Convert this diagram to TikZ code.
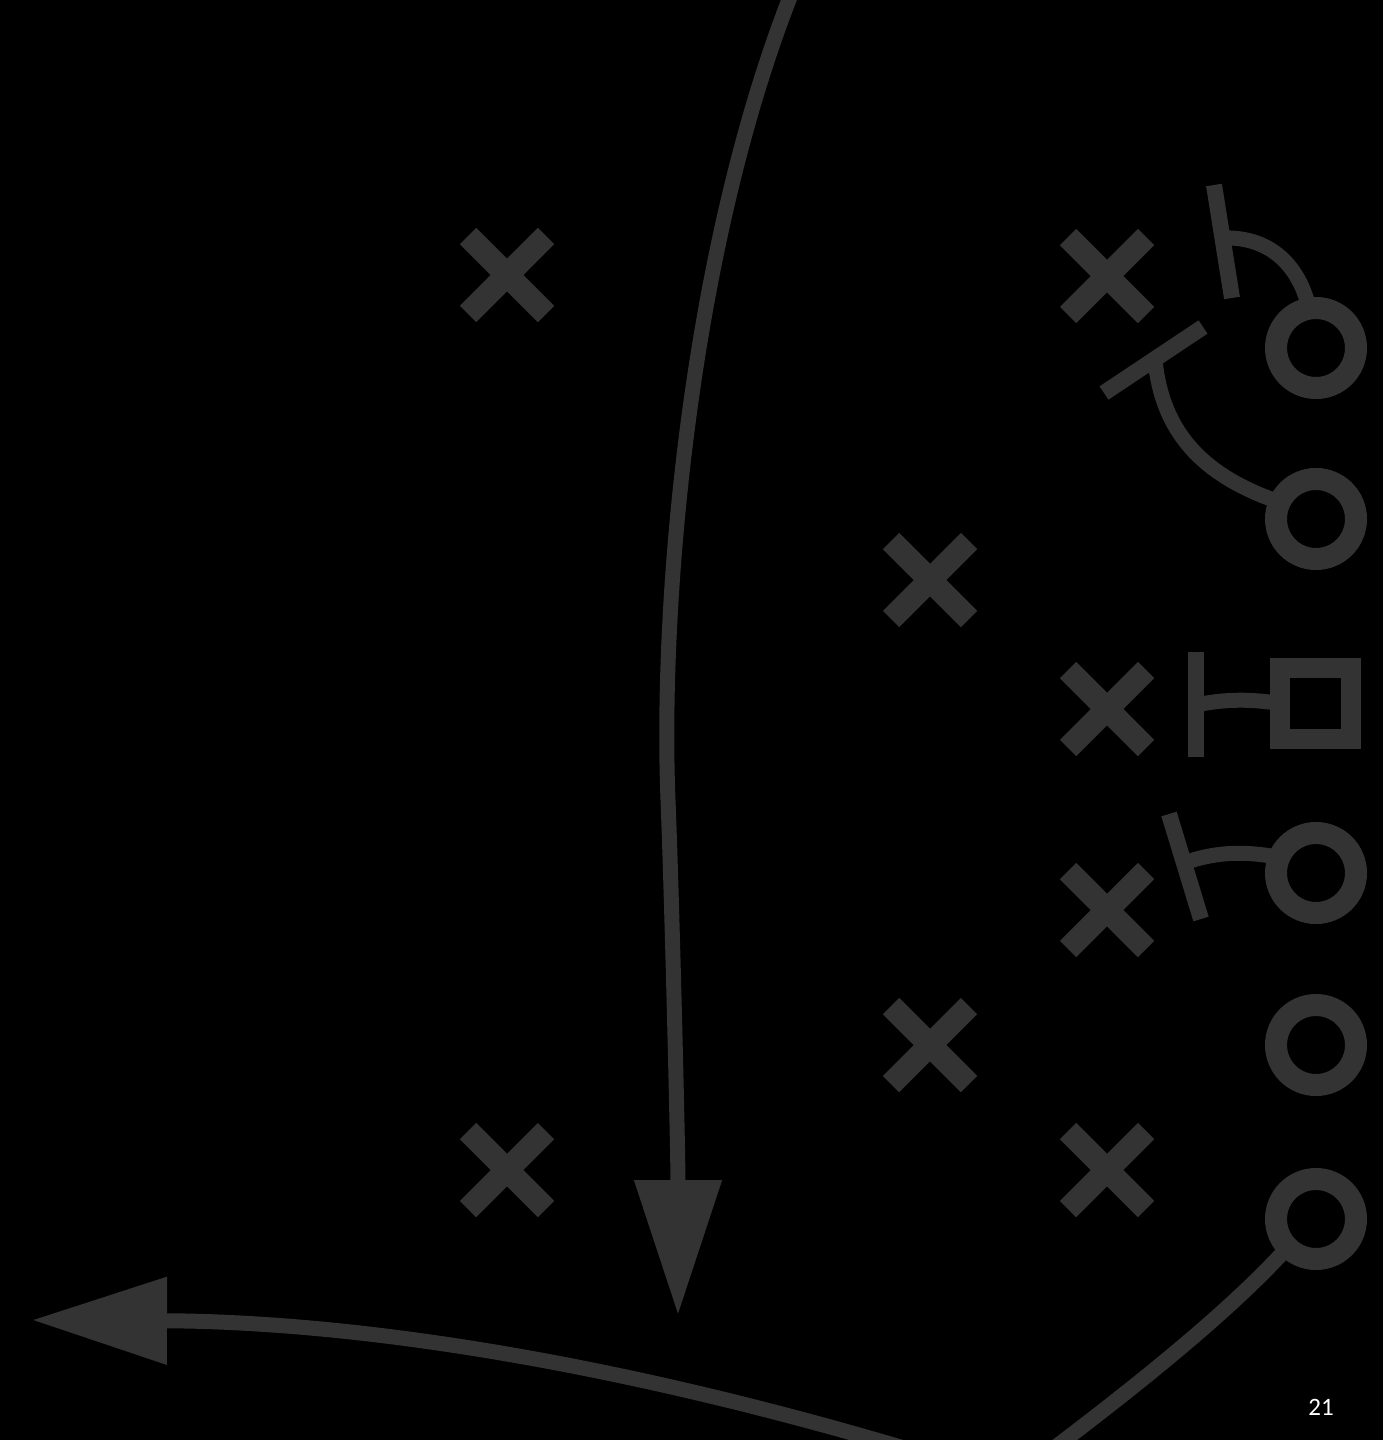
\documentclass[tikz,border=0pt]{standalone}
\usepackage{fontspec}
\newfontfamily\pgfont{Carlito}
\usetikzlibrary{arrows.meta,shapes.misc}
\definecolor{ink}{RGB}{51,51,51}
\begin{document}
\begin{tikzpicture}[x=1pt,y=-1pt,
  defx/.style={cross out,draw=ink,line width=23pt,minimum size=78pt,inner sep=0pt,outer sep=0pt},
  ring/.style={circle,draw=ink,line width=22pt,minimum size=80pt,inner sep=0pt,outer sep=0pt},
  sqbox/.style={rectangle,draw=ink,line width=20pt,minimum size=71pt,inner sep=0pt,outer sep=0pt},
  route/.style={draw=ink,line width=15pt},
  tbar/.style={draw=ink,line width=16pt},
  bigtip/.style={-{Triangle[length=135pt,width=84pt]}}
]
\fill[black] (0,0) rectangle (1383,1440);
\useasboundingbox (0,0) rectangle (1383,1440);
\clip (0,0) rectangle (1383,1440);

% defenders
\node[defx] (x1) at (507,275) {};
\node[defx] (x2) at (1107,276) {};
\node[defx] (x3) at (930,580) {};
\node[defx] (x4) at (1107,709) {};
\node[defx] (x5) at (1107,910) {};
\node[defx] (x6) at (930,1045) {};
\node[defx] (x7) at (507,1170) {};
\node[defx] (x8) at (1107,1170) {};

% offense
\node[ring] (o1) at (1316,348) {};
\node[ring] (o2) at (1316,519) {};
\node[sqbox] (sq) at (1315.5,703.5) {};
\node[ring] (o3) at (1316,873) {};
\node[ring] (o4) at (1316,1045) {};
\node[ring] (o5) at (1316,1219) {};

% block bars
\coordinate (b1a) at (1214,185); \coordinate (b1b) at (1232,298); \coordinate (b1m) at (1222,238);
\coordinate (b2a) at (1104,393); \coordinate (b2b) at (1203,327); \coordinate (b2m) at (1155,360);
\coordinate (b3a) at (1196,652); \coordinate (b3b) at (1196,757); \coordinate (b3m) at (1196,705);
\coordinate (b4a) at (1169,814); \coordinate (b4b) at (1201,919); \coordinate (b4m) at (1184,863);

\path[tbar] (b1a) -- (b1b);
\path[tbar] (b2a) -- (b2b);
\path[tbar] (b3a) -- (b3b);
\path[tbar] (b4a) -- (b4b);

% block routes
\path[route] (o1.100) .. controls (1300,268) and (1272,236) .. (b1m);
\path[route] (o2.155) .. controls (1200,475) and (1162,430) .. (b2m);
\path[route] (sq.west) .. controls (1245,698) and (1220,700) .. (b3m);
\path[route] (o3.157) .. controls (1240,850) and (1212,853) .. (b4m);

% deep route with arrow
\coordinate (deepstart) at (792,-8);
\coordinate (deepend) at (678,1315);
\path[route,bigtip] (deepstart) .. controls (690,250) and (660,600) .. (668,800)
  .. controls (672,900) and (678,1150) .. (deepend);

% bottom route
\coordinate (turn) at (1010,1481);
\coordinate (leftend) at (32,1320);
\path[route,bigtip,line join=round] (o5.225) .. controls (1240,1300) and (1160,1370) .. (turn)
  .. controls (700,1380) and (400,1322) .. (leftend);

% page number
\node[text=white,font=\pgfont\fontsize{25}{30}\selectfont,inner sep=0pt] (pg) at (1321,1407) {21};
\end{tikzpicture}
\end{document}
